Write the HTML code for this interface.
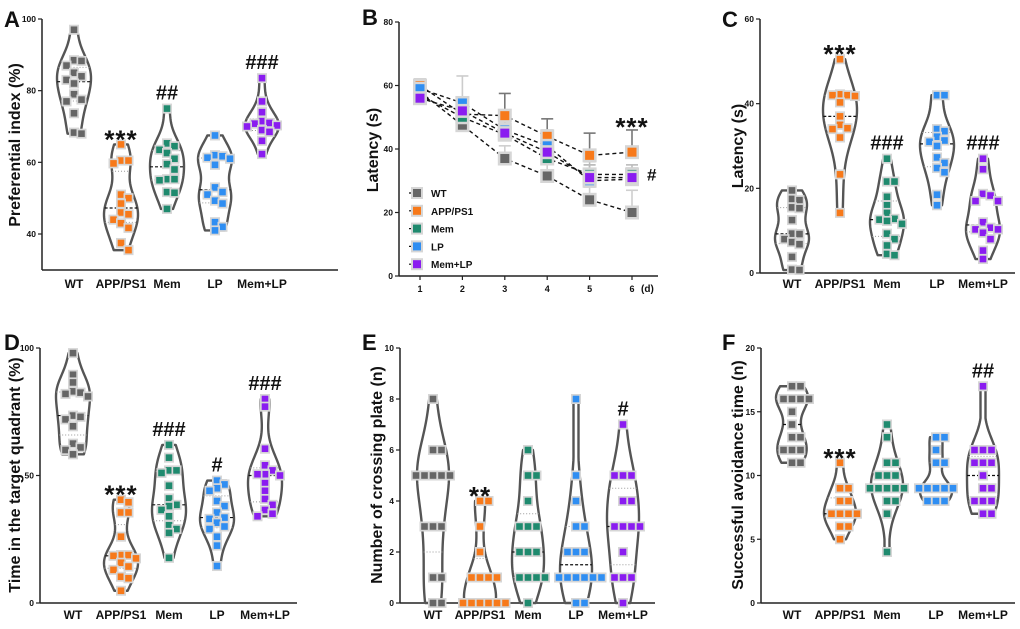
<!DOCTYPE html>
<html><head><meta charset="utf-8">
<style>
html,body{margin:0;padding:0;background:#fff;}
svg text{font-family:"Liberation Sans",Arial,sans-serif;font-weight:bold;fill:#111;}
</style></head>
<body>
<svg id="fig" width="1020" height="624" viewBox="0 0 1020 624" xmlns="http://www.w3.org/2000/svg"></svg>
<script>
// ---------- data ----------
const groups = ["WT","APP/PS1","Mem","LP","Mem+LP"];
const colors = ["#666666","#f7791a","#1f8a6e","#2f8ef2","#8a1cf0"];

const A_WT=[97,88.3,88.5,87,85,84,83,82,79,77.5,77,73.7,68.3,68];
const A_APP=[65,60.5,59.7,60.5,51,50,48.5,45.5,46,43,41.7,37.5,35.5,44];
const A_MEM=[75,63.5,64.5,65.3,62.6,61,59.5,58,55.3,55,55.3,51.7,51.5,47];
const A_LP=[67.5,61.7,61.3,61,62,59.3,53,51.7,51,49.3,48.5,43.3,42,41];
const A_MEMLP=[83.5,77,74,71.5,71,70.3,70.8,69,68.5,70,66,62.3];

const C_WT=[19.5,17.5,17.2,15.5,15.3,12.5,9.3,9.2,8,7.3,6.8,3.8,0.8,0.7];
const C_APP=[50.5,42,42,41.8,40.3,37,35,34,34.2,32,23.3,14.2,42.2];
const C_MEM=[27,21.6,21.6,18,16,14.2,12.8,12.6,12.3,11.6,9.3,8,6.5,4.5,4.2];
const C_LP=[42,42,34,33.5,32.2,31.3,31,30,27.3,26,24.8,23.8,18.5,16];
const C_MEMLP=[27,24.5,18.7,18.3,17,17,12,10.3,10.3,10.7,9.5,8,5.3,3.3];

const D_WT=[98,89.5,86.5,83,82,81,82.5,73.5,73,72,69.3,62.5,61,60,58.3];
const D_APP=[40.5,39.5,35.5,35.5,26,18.8,18.8,18.5,17.5,15.8,14.3,10.3,9.7,4.8,13];
const D_MEM=[62,57,52,52,51,46,41,38.5,38,36.5,34,30.5,29,27.5,17.7];
const D_LP=[48,46.5,45,44,40,38,35.5,33.5,33,31.5,30,29,26,22.5,14.5];
const D_MEMLP=[80,77,60.5,54,52,50.5,50.5,50,47,44,40.8,38.5,36.5,35,34];

const E_WT=[8,6,6,5,5,5,5,5,3,3,3,1,1,0,0];
const E_APP=[4,4,3,2,1,1,1,1,0,0,0,0,0,0];
const E_MEM=[6,5,5,4,3,3,3,2,2,2,1,1,1,1,0];
const E_LP=[8,5,4,3,3,2,2,2,1,1,1,1,1,1,0,0];
const E_MEMLP=[7,5,5,5,4,4,3,3,3,3,2,1,1,1,0];

const F_WT=[17,17,16,16,16,16,15,14,13,13,12,12,12,11,11];
const F_APP=[11,9,9,8,8,7,7,7,7,6,6,5];
const F_MEM=[14,13,11,11,10,10,10,9,9,9,9,9,8,8,7,4];
const F_LP=[13,13,12,11,11,9,9,9,9,9,8,8,8];
const F_MEMLP=[17,12,12,12,11,11,11,10,9,9,8,8,8,7,7];

const B_days=[1,2,3,4,5,6];
const B_WT=[58,47.5,37,31.5,24,20];
const B_APP=[60,51,50.5,44,38,39];
const B_MEM=[57,50,44.5,37,32,32];
const B_LP=[59,54.5,46,41,30,30.5];
const B_MEMLP=[56,52,45,39,31,31];
const B_WT_SD=[3,4,4,4,4,7];
const B_APP_SD=[2,4,7,5.5,7,7];
const B_MEM_SD=[3,5,4,4,4,3];
const B_LP_SD=[3,8.5,5,5,5,3];
const B_MEMLP_SD=[3,4,4,4,4,3];
const B_ticks=[0,20,40,60,80];

const NS="http://www.w3.org/2000/svg";
const svg=document.getElementById('fig');
function mk(tag,attrs,parent,text){
  const e=document.createElementNS(NS,tag);
  for(const k in attrs)e.setAttribute(k,attrs[k]);
  if(text!==undefined)e.textContent=text;
  (parent||svg).appendChild(e);return e;
}

function violinPanel(p){
  const g=mk('g',{});
  
  
  const y=v=>p.y0+(v-p.vmin)/(p.vmax-p.vmin)*(p.y1-p.y0);
  const yax=mk('line',{x1:p.ax,y1:y(p.vmax),x2:p.ax,y2:p.axisY,stroke:'#222','stroke-width':1.5},g);
  
  const xax=mk('line',{x1:p.ax,y1:p.axisY,x2:p.axEnd,y2:p.axisY,stroke:'#222','stroke-width':1.5},g);
  
  p.ticks.forEach(t=>{
    mk('line',{x1:p.ax-4,y1:y(t),x2:p.ax,y2:y(t),stroke:'#222','stroke-width':1.2},g);
    const tl=mk('text',{x:p.ax-6,y:y(t)+3,'font-size':8.5,'text-anchor':'end'},g,String(t));
    
  });
  const yt=mk('text',{x:p.titleX,y:p.titleY,'font-size':16,'text-anchor':'middle',transform:`rotate(-90 ${p.titleX} ${p.titleY})`},g,p.title);
  
  const pl=mk('text',{x:p.lx,y:p.ly,'font-size':22},g,p.letter);
  
  p.data.forEach((vals,i)=>{
    const cx=p.cx[i];
    const gg=mk('g',{},g);
    
    
    const mn=Math.min(...vals),mx=Math.max(...vals);
    const bw=Math.max((mx-mn)*0.15,(p.vmax-p.vmin)*0.03);
    const N=60,pts=[];let maxd=0;
    const dens=v=>{let d=0;vals.forEach(u=>{d+=Math.exp(-0.5*((v-u)/bw)**2);});return d;};
    for(let k=0;k<=N;k++){
      const v=mn+(mx-mn)*k/N;const d=dens(v);
      pts.push([v,d]);if(d>maxd)maxd=d;
    }
    const W=p.W||18;
    const hw=d=>Math.max(2.5,d/maxd*W);
    let path='M'+pts.map(q=>`${cx+hw(q[1])},${y(q[0])}`).join(' L');
    path+=' L'+pts.slice().reverse().map(q=>`${cx-hw(q[1])},${y(q[0])}`).join(' L')+' Z';
    mk('path',{d:path,fill:'#fff',stroke:'#555','stroke-width':2.4,'stroke-linejoin':'round'},gg);
    const s=vals.slice().sort((a,b)=>a-b);
    const q=f=>{const pos=(s.length-1)*f,lo=Math.floor(pos);return s[lo]+(s[Math.min(lo+1,s.length-1)]-s[lo])*(pos-lo);};
    const widthAt=v=>hw(dens(v));
    const med=q(0.5);
    mk('line',{x1:cx-widthAt(med),x2:cx+widthAt(med),y1:y(med),y2:y(med),stroke:'#111','stroke-width':1.2,'stroke-dasharray':'3,2'},gg);
    [0.25,0.75].forEach(f=>{const v=q(f);mk('line',{x1:cx-widthAt(v),x2:cx+widthAt(v),y1:y(v),y2:y(v),stroke:'#999','stroke-width':1,'stroke-dasharray':'1,2'},gg);});
    const placed=[];const step=p.step||7.5;
    s.slice().reverse().forEach(v=>{
      const py=y(v);let off=0;
      const cand=[];for(let k=0;k<14;k++){cand.push(k*step*0.5);if(k)cand.push(-k*step*0.5);}
      for(const o of cand){
        if(placed.every(pp=>Math.abs(pp[0]-(cx+o))>=step||Math.abs(pp[1]-py)>=step)){off=o;break;}
      }
      placed.push([cx+off,py]);
    });
    placed.forEach(pp=>{
      mk('rect',{x:pp[0]-5,y:pp[1]-5,width:10,height:10,fill:'#d6d6d6'},gg);
      const r=mk('rect',{x:pp[0]-3.3,y:pp[1]-3.3,width:6.6,height:6.6,fill:colors[i]},gg);
      
    });
    const xl=mk('text',{x:cx,y:p.labY,'font-size':12,'text-anchor':'middle'},g,groups[i]);
    
    const ann=p.ann[i];
    if(ann){
      const star=ann[0]==='*';
      const t=mk('text',{x:cx,y:star?y(mx)+4:y(mx)-9,'font-size':star?26:20,'text-anchor':'middle','letter-spacing':star?1:0},g,ann);
      
    }
  });
}

violinPanel({name:'panel-a',letter:'A',lx:4,ly:27,ax:42,axEnd:338,axisY:270,vmin:40,vmax:100,y0:234,y1:19,ticks:[40,60,80,100],
  title:'Preferential index (%)',titleX:20,titleY:145,cx:[74,121,167,215,262],labY:288,
  data:[A_WT,A_APP,A_MEM,A_LP,A_MEMLP],ann:['','***','##','','###'],W:17});
violinPanel({name:'panel-c',letter:'C',lx:722,ly:27,ax:760,axEnd:1015,axisY:273,vmin:0,vmax:60,y0:273,y1:19,ticks:[0,20,40,60],
  title:'Latency (s)',titleX:743,titleY:146,cx:[792,840,887,937,983],labY:288,
  data:[C_WT,C_APP,C_MEM,C_LP,C_MEMLP],ann:['','***','###','','###'],W:17});
violinPanel({name:'panel-d',letter:'D',lx:4,ly:350,ax:40,axEnd:297,axisY:603,vmin:0,vmax:100,y0:603,y1:348,ticks:[0,50,100],
  title:'Time in the target quadrant (%)',titleX:20,titleY:475,cx:[73,121,169,217,265],labY:619,
  data:[D_WT,D_APP,D_MEM,D_LP,D_MEMLP],ann:['','***','###','#','###'],W:17});
violinPanel({name:'panel-e',letter:'E',lx:362,ly:350,ax:400,axEnd:655,axisY:603,vmin:0,vmax:10,y0:603,y1:348,ticks:[0,2,4,6,8,10],
  title:'Number of crossing plate (n)',titleX:382,titleY:475,cx:[433,480,528,576,623],labY:619,
  data:[E_WT,E_APP,E_MEM,E_LP,E_MEMLP],ann:['','**','','','#'],W:16,step:8.5});
violinPanel({name:'panel-f',letter:'F',lx:722,ly:350,ax:761,axEnd:1015,axisY:603,vmin:0,vmax:20,y0:603,y1:348,ticks:[0,5,10,15,20],
  title:'Successful avoidance time (n)',titleX:743,titleY:475,cx:[792,840,887,936,983],labY:619,
  data:[F_WT,F_APP,F_MEM,F_LP,F_MEMLP],ann:['','***','','','##'],W:16,step:8.5});

// ---------- panel B ----------
(function(){
  const g=mk('g',{});
  
  
  const ax=399,ay=276,top=22;
  const y=v=>ay-(v/80)*(ay-top);
  const x=d=>420+(d-1)*42.4;
  const yax=mk('line',{x1:ax,y1:top,x2:ax,y2:ay,stroke:'#222','stroke-width':1.5},g);
  
  const xax=mk('line',{x1:ax,y1:ay,x2:658,y2:ay,stroke:'#222','stroke-width':1.5},g);
  
  B_ticks.forEach(t=>{
    mk('line',{x1:ax-4,y1:y(t),x2:ax,y2:y(t),stroke:'#222','stroke-width':1.2},g);
    const tl=mk('text',{x:ax-6,y:y(t)+3,'font-size':8.5,'text-anchor':'end'},g,String(t));
    
  });
  B_days.forEach(d=>{
    mk('line',{x1:x(d),y1:ay,x2:x(d),y2:ay+4,stroke:'#222','stroke-width':1.2},g);
    const tl=mk('text',{x:x(d),y:ay+16,'font-size':9,'text-anchor':'middle'},g,String(d));
    
  });
  const du=mk('text',{x:641,y:ay+16,'font-size':10},g,'(d)');
  
  const yt=mk('text',{x:378,y:150,'font-size':16,'text-anchor':'middle',transform:'rotate(-90 378 150)'},g,'Latency (s)');
  
  const pl=mk('text',{x:362,y:25,'font-size':22},g,'B');
  
  const series=[B_WT,B_APP,B_MEM,B_LP,B_MEMLP];
  const sds=[B_WT_SD,B_APP_SD,B_MEM_SD,B_LP_SD,B_MEMLP_SD];
  const errCol=['#cfcfcf','#777','#bbb','#ccc','#bbb'];
  series.forEach((s,i)=>{
    const sg=mk('g',{},g);
    
    
    s.forEach((v,k)=>{
      const cx=x(B_days[k]),t=y(v+sds[i][k]);
      mk('line',{x1:cx,y1:y(v),x2:cx,y2:t,stroke:errCol[i],'stroke-width':1.6},sg);
      mk('line',{x1:cx-6,y1:t,x2:cx+6,y2:t,stroke:errCol[i],'stroke-width':1.6},sg);
    });
    mk('polyline',{points:s.map((v,k)=>`${x(B_days[k])},${y(v)}`).join(' '),fill:'none',stroke:'#111','stroke-width':1.4,'stroke-dasharray':'4,3'},sg);
  });
  series.forEach((s,i)=>{
    s.forEach((v,k)=>{
      const cx=x(B_days[k]);
      mk('rect',{x:cx-7,y:y(v)-7,width:14,height:14,fill:'#d6d6d6'},g);
      const r=mk('rect',{x:cx-4.5,y:y(v)-4.5,width:9,height:9,fill:colors[i]},g);
      
    });
  });
  const sa=mk('text',{x:x(6),y:y(B_APP[5]+B_APP_SD[5])+6,'font-size':26,'text-anchor':'middle','letter-spacing':1},g,'***');
  
  const sh=mk('text',{x:x(6)+15,y:y(B_MEM[5])+6,'font-size':17},g,'#');
  
  const lg=mk('g',{},g);
  
  
  groups.forEach((nm,i)=>{
    const ly=193+i*17.8;
    const eg=mk('g',{},lg);
    
    
    mk('line',{x1:409,y1:ly,x2:425,y2:ly,stroke:'#111','stroke-width':1.2,'stroke-dasharray':'2,2'},eg);
    mk('rect',{x:411,y:ly-6,width:12,height:12,fill:'#d6d6d6'},eg);
    mk('rect',{x:413,y:ly-4,width:8,height:8,fill:colors[i]},eg);
    mk('text',{x:431,y:ly+4,'font-size':10},eg,nm);
  });
})();
</script>
</body></html>
